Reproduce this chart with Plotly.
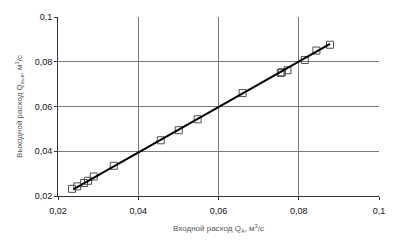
import plotly.graph_objects as go

x_in = [0.0235, 0.0248, 0.0265, 0.0275, 0.0289, 0.0339, 0.0456, 0.0501, 0.0548,
        0.0660, 0.0755, 0.0758, 0.0772, 0.0815, 0.0844, 0.0878]
y_out = [0.0232, 0.0243, 0.0258, 0.0268, 0.0287, 0.0335, 0.0449, 0.0494, 0.0543,
         0.0660, 0.0750, 0.0753, 0.0762, 0.0808, 0.0850, 0.0876]
fit_x = [0.0238, 0.0878]
fit_y = [0.0230, 0.0880]
ticks = [0.02, 0.04, 0.06, 0.08, 0.1]
tick_text = ["0,02", "0,04", "0,06", "0,08", "0,1"]

fig = go.Figure()
fig.add_trace(go.Scatter(x=x_in, y=y_out, mode="markers",
                         marker=dict(symbol="square-open", size=7,
                                     color="#505050", line=dict(width=1)),
                         showlegend=False))
fig.add_trace(go.Scatter(x=fit_x, y=fit_y, mode="lines",
                         line=dict(color="black", width=2), showlegend=False))

font = dict(family="Liberation Sans, Arial, sans-serif", size=9, color="#111")
fig.update_layout(
    width=406, height=243,
    margin=dict(l=58, r=27, t=15, b=47),
    paper_bgcolor="white", plot_bgcolor="white",
    font=font,
    xaxis=dict(range=[0.02, 0.1], tickvals=ticks, ticktext=tick_text,
               showgrid=True, gridcolor="#7a7a7a", gridwidth=1,
               showline=True, linecolor="#333", linewidth=1, mirror=False,
               ticks="outside", ticklen=3, tickcolor="#333", zeroline=False,
               ticklabelstandoff=3,
               title=dict(text="Входной расход Q<sub>А</sub>, м<sup>3</sup>/с",
                          font=dict(size=8, color="#555"), standoff=10)),
    yaxis=dict(range=[0.02, 0.1], tickvals=ticks, ticktext=tick_text,
               showgrid=True, gridcolor="#7a7a7a", gridwidth=1,
               showline=True, linecolor="#333", linewidth=1, mirror=False,
               ticks="outside", ticklen=3, tickcolor="#333", zeroline=False,
               title=dict(text="Выходной расход Q<sub>вых</sub>, м<sup>3</sup>/с",
                          font=dict(size=8, color="#555"), standoff=10)),
)
fig.write_html("out.html")
